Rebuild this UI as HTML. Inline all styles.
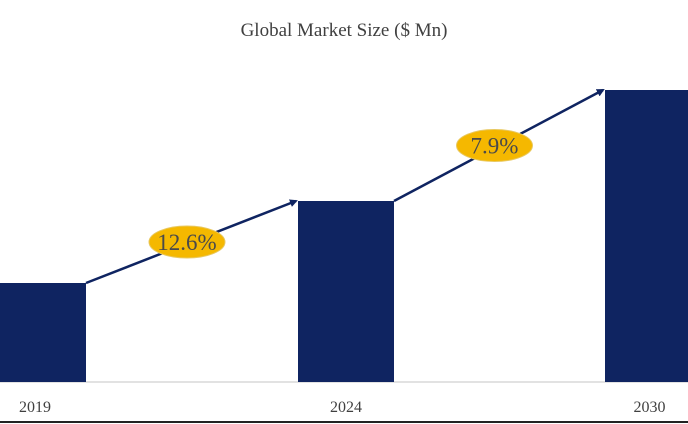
<!DOCTYPE html>
<html><head><meta charset="utf-8"><style>
body{margin:0;background:#fff;}
svg{display:block;font-family:"Liberation Serif",serif;}
</style></head><body>
<svg id="c" width="688" height="424">
<text x="344" y="36" text-anchor="middle" font-size="19" fill="#404040">Global Market Size ($ Mn)</text>
<line x1="0" y1="382" x2="688" y2="382" stroke="#d9d9d9" stroke-width="1.5"/>
<line x1="0" y1="422" x2="688" y2="422" stroke="#222" stroke-width="2"/>
<defs><marker id="ah" markerWidth="8" markerHeight="8" refX="6" refY="4" orient="auto" markerUnits="userSpaceOnUse"><path d="M0,0 L8,4 L0,8 z" fill="#0f2461"/></marker></defs>
<g id="bars"></g><g id="labels"></g><g id="growth"></g>
</svg>
<script>
const categories=["2019","2024","2030"];
const values=[99,181,292];
const growthLabels=["12.6%","7.9%"];
const ns="http://www.w3.org/2000/svg";
const barX=[0,298,605], barW=[86,96,83];
const base=382;
function y(v){return base-v;}
const svg=document.getElementById('c');
const gb=document.getElementById('bars'),gl=document.getElementById('labels'),gg=document.getElementById('growth');
function mk(t,a){const e=document.createElementNS(ns,t);for(const k in a)e.setAttribute(k,a[k]);return e;}
categories.forEach((c,i)=>{
 const r=mk('rect',{x:barX[i],y:y(values[i]),width:barW[i],height:values[i],fill:'#0f2461'});
 
 
 gb.appendChild(r);
 const t=mk('text',{x:barX[i]+barW[i]/2-(i==0?8:i==2?-3:0),y:412,'text-anchor':'middle','font-size':16,fill:'#404040'});
 t.textContent=c;
 
 
 gl.appendChild(t);
});
growthLabels.forEach((g,i)=>{
 const x1=barX[i]+barW[i],y1=y(values[i]),x2=barX[i+1]-2,y2=y(values[i+1]);
 const l=mk('line',{x1:x1,y1:y1,x2:x2,y2:y2,stroke:'#0f2461','stroke-width':2.5,'marker-end':'url(#ah)'});
 
 
 gg.appendChild(l);
 const cx=(x1+x2)/2-4,cy=(y1+y2)/2;
 const e=mk('ellipse',{cx:cx,cy:cy,rx:38,ry:16,fill:'#f5b800',stroke:'#e8c860','stroke-width':1});
 
 
 gg.appendChild(e);
 const t=mk('text',{x:cx,y:cy+8,'text-anchor':'middle','font-size':23,fill:'#4a4a4a'});
 t.textContent=g;
 
 
 gg.appendChild(t);
});
</script>
</body></html>
